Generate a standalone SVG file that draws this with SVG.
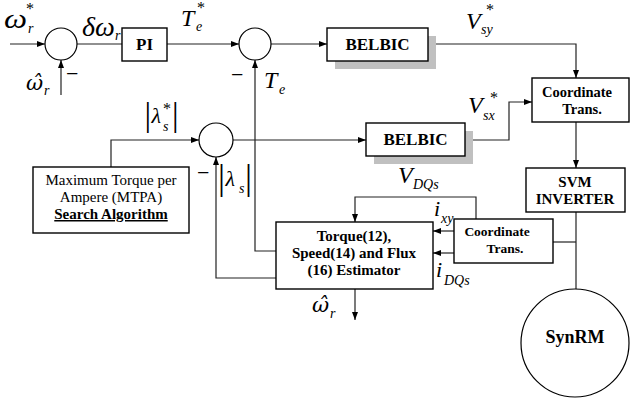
<svg xmlns="http://www.w3.org/2000/svg" width="631" height="401" viewBox="0 0 631 401">
<style>
.box{fill:#fff;stroke:#000;stroke-width:1.4}
.sh{fill:#c0c0c0;stroke:none}
.sum{fill:#fff;stroke:#000;stroke-width:1.2}
.c{fill:none;stroke:#222;stroke-width:1.2}
.b{font-family:"Liberation Serif","Times New Roman",serif;font-weight:bold;text-anchor:middle;fill:#000}
.t{font-family:"Liberation Serif","Times New Roman",serif;fill:#000}
.m{font-family:"Liberation Serif","Times New Roman",serif;font-style:italic;fill:#000}
.h{font-family:"DejaVu Serif",serif;font-style:italic;fill:#000}
.n{font-style:normal}
</style>
<defs>
<marker id="ah" viewBox="0 0 8 6" refX="8" refY="3" markerWidth="8" markerHeight="6" orient="auto" markerUnits="userSpaceOnUse"><path d="M0,0 L8,3 L0,6 z" fill="#000"/></marker>
</defs>
<rect width="631" height="401" fill="#fff"/>

<g id="connectors" class="c">
<path d="M10,44 H45" marker-end="url(#ah)"/>
<path d="M61,95 V60" marker-end="url(#ah)"/>
<path d="M77,44 H122"/>
<path d="M167,44 H239" marker-end="url(#ah)"/>
<path d="M271,44 H327" marker-end="url(#ah)"/>
<path d="M428,44 H576 V78" marker-end="url(#ah)"/>
<path d="M576,122 V168" marker-end="url(#ah)"/>
<path d="M276,251 H255 V60" marker-end="url(#ah)"/>
<path d="M111,167 V140 H199" marker-end="url(#ah)"/>
<path d="M233,140 H366" marker-end="url(#ah)"/>
<path d="M465,140 H509 V102 H532" marker-end="url(#ah)"/>
<path d="M276,278 H216 V157" marker-end="url(#ah)"/>
<path d="M476,219 V197 H355 V222" marker-end="url(#ah)"/>
<path d="M454,231 H433" marker-end="url(#ah)"/>
<path d="M454,253 H433" marker-end="url(#ah)"/>
<path d="M355,289 V320" marker-end="url(#ah)"/>
<path d="M576,212 V289"/>
<path d="M553,242 H576"/>
</g>

<g id="sum1"><circle class="sum" cx="61" cy="44" r="16"/></g>
<g id="pi"><rect class="box" x="122" y="28" width="45" height="33"/><text class="b" x="144.5" y="50" font-size="17">PI</text></g>
<g id="sum2"><circle class="sum" cx="255" cy="44" r="16"/></g>
<g id="belbic1"><rect class="sh" x="335" y="36" width="101" height="33"/><rect class="box" x="327" y="28" width="101" height="33"/><text class="b" x="377.5" y="50" font-size="17">BELBIC</text></g>
<g id="coord1"><rect class="box" x="532" y="78" width="97" height="44"/><text class="b" x="577" y="97" font-size="14.5">Coordinate</text><text class="b" x="582" y="114" font-size="14.5">Trans.</text></g>
<g id="sum3"><circle class="sum" cx="216" cy="140" r="17"/></g>
<g id="belbic2"><rect class="sh" x="374" y="131" width="99" height="33"/><rect class="box" x="366" y="123" width="99" height="33"/><text class="b" x="415.5" y="145" font-size="17">BELBIC</text></g>
<g id="mtpa"><rect class="box" x="33" y="167" width="156" height="66"/>
<text class="t" x="111" y="185" font-size="15" text-anchor="middle">Maximum Torque per</text>
<text class="t" x="111" y="202" font-size="15" text-anchor="middle">Ampere (MTPA)</text>
<text class="b" x="111" y="219" font-size="15" text-decoration="underline">Search Algorithm</text></g>
<g id="svm"><rect class="box" x="526" y="168" width="99" height="44"/><text class="b" x="575" y="187" font-size="15">SVM</text><text class="b" x="575" y="204" font-size="15">INVERTER</text></g>
<g id="estimator"><rect class="box" x="276" y="222" width="157" height="67"/>
<text class="b" x="354" y="241" font-size="15">Torque(12),</text>
<text class="b" x="354" y="258" font-size="15">Speed(14) and Flux</text>
<text class="b" x="354" y="275" font-size="15">(16) Estimator</text></g>
<g id="coord2"><rect class="box" x="454" y="219" width="99" height="44"/><text class="b" x="497" y="236" font-size="13.5">Coordinate</text><text class="b" x="505" y="253" font-size="13.5">Trans.</text></g>
<g id="synrm"><circle class="sum" cx="575" cy="343" r="54"/><text class="b" x="575" y="343" font-size="18">SynRM</text></g>

<g id="labels">
<text class="m" font-size="28"><tspan x="4" y="28" textLength="23" lengthAdjust="spacingAndGlyphs">ω</tspan><tspan x="28" y="33" font-size="14">r</tspan><tspan class="n" x="26" y="14" font-size="16">*</tspan></text>

<text class="m" font-size="28"><tspan x="82" y="36">δω</tspan><tspan x="115" y="40" font-size="14">r</tspan></text>

<text class="h" font-size="21"><tspan x="26" y="90">ω̂</tspan><tspan class="m" x="44" y="95" font-size="14">r</tspan></text>
<text class="t" x="66" y="81" font-size="22">−</text>

<text class="m" font-size="24"><tspan x="181" y="26">T</tspan><tspan x="196" y="31" font-size="14">e</tspan><tspan class="n" x="197" y="13" font-size="16">*</tspan></text>

<text class="t" x="231" y="82" font-size="22">−</text>
<text class="m" font-size="24"><tspan x="264" y="88">T</tspan><tspan x="279" y="94" font-size="14">e</tspan></text>

<text class="m" font-size="24"><tspan x="466" y="29">V</tspan><tspan x="481" y="34" font-size="14">sy</tspan><tspan class="n" x="486" y="15" font-size="16">*</tspan></text>

<text class="m" font-size="24"><tspan x="468" y="113">V</tspan><tspan x="483" y="120" font-size="14">sx</tspan><tspan class="n" x="490" y="103" font-size="16">*</tspan></text>

<text class="t" font-size="33"><tspan x="144.5" y="126">|</tspan><tspan class="m" x="151.5" y="123" font-size="22">λ</tspan><tspan class="m" x="163" y="131" font-size="14">s</tspan><tspan x="163" y="114" font-size="16">*</tspan><tspan x="172" y="126">|</tspan></text>

<text class="t" x="197" y="180" font-size="22">−</text>
<text class="t" font-size="35"><tspan x="218" y="189">|</tspan><tspan class="m" x="225.5" y="186" font-size="22">λ</tspan><tspan class="m" x="239" y="193" font-size="14">s</tspan><tspan x="245" y="189">|</tspan></text>

<text class="m" font-size="24"><tspan x="398" y="183">V</tspan><tspan x="413" y="189" font-size="14">DQs</tspan></text>

<text class="m" font-size="22"><tspan x="434" y="216">i</tspan><tspan x="441" y="223" font-size="14">xy</tspan></text>

<text class="m" font-size="22"><tspan x="436" y="277">i</tspan><tspan x="444" y="285" font-size="14">DQs</tspan></text>

<text class="h" font-size="21"><tspan x="312" y="312">ω̂</tspan><tspan class="m" x="330" y="318" font-size="14">r</tspan></text>
</g>
</svg>
